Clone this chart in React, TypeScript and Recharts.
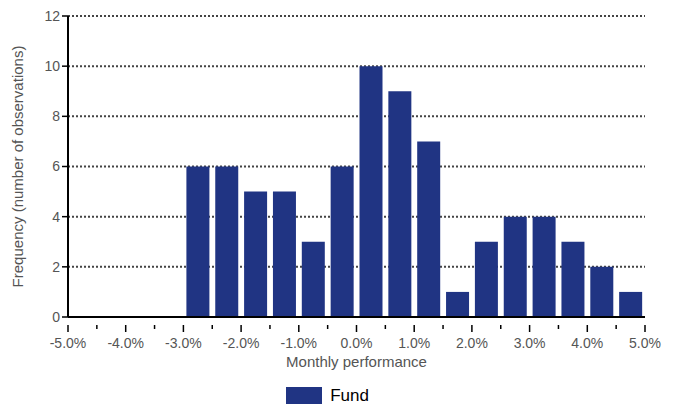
import React from 'react';
import { BarChart, Bar, XAxis, YAxis, CartesianGrid, Legend } from 'recharts';

// bin centres (monthly return, %), each bin 0.5% wide
const binCenters = [
  -4.75, -4.25, -3.75, -3.25, -2.75, -2.25, -1.75, -1.25, -0.75, -0.25,
  0.25, 0.75, 1.25, 1.75, 2.25, 2.75, 3.25, 3.75, 4.25, 4.75,
];
const fundCounts = [0, 0, 0, 0, 6, 6, 5, 5, 3, 6, 10, 9, 7, 1, 3, 4, 4, 3, 2, 1];
const xTicks = [-5, -4.5, -4, -3.5, -3, -2.5, -2, -1.5, -1, -0.5, 0, 0.5, 1, 1.5, 2, 2.5, 3, 3.5, 4, 4.5, 5];
const yTicks = [0, 2, 4, 6, 8, 10, 12];

const BAR_COLOR = '#203483';
const TEXT_GRAY = '#555';

const data = binCenters.map((x, i) => ({ x, fund: fundCounts[i] }));

const XTick = (props: any) => {
  const { x, y, payload } = props;
  const v = payload.value as number;
  const major = Number.isInteger(v);
  return (
    <g>
      <line x1={x} x2={x} y1={y} y2={y + (major ? 7 : 4)} stroke="#000" strokeWidth={1.5} />
      {major && (
        <text x={x} y={y + 19} textAnchor="middle" fontSize={14} fill={TEXT_GRAY} dominantBaseline="middle">
          {v.toFixed(1) + '%'}
        </text>
      )}
    </g>
  );
};

const LegendContent = () => (
  <div style={{ display: 'flex', justifyContent: 'center', alignItems: 'center', height: 41, paddingTop: 16, boxSizing: 'border-box' }}>
    <div style={{ width: 36, height: 17, background: BAR_COLOR, marginRight: 8 }} />
    <span style={{ fontSize: 17, color: '#000' }}>Fund</span>
  </div>
);

export default function App() {
  return (
    <div style={{ position: 'absolute', left: 0, top: 0, fontFamily: 'Arial, "Liberation Sans", sans-serif' }}>
      <BarChart width={676} height={408} data={data} margin={{ top: 16, right: 31, left: 10, bottom: 0 }}>
        <CartesianGrid vertical={false} stroke="#444" strokeWidth={2} strokeDasharray="2 2" />
        <XAxis
          dataKey="x"
          type="number"
          domain={[-5, 5]}
          ticks={xTicks}
          interval={0}
          tickLine={false}
          tick={<XTick />}
          axisLine={{ stroke: '#000', strokeWidth: 2 }}
          height={50}
          label={{ value: 'Monthly performance', position: 'insideBottom', offset: 0, fontSize: 15, fill: TEXT_GRAY }}
        />
        <YAxis
          domain={[0, 12]}
          ticks={yTicks}
          width={58}
          tick={{ fontSize: 14, fill: TEXT_GRAY }}
          tickLine={{ stroke: '#000', strokeWidth: 1.5 }}
          axisLine={{ stroke: '#000', strokeWidth: 2 }}
          label={{ value: 'Frequency (number of observations)', angle: -90, position: 'insideLeft', offset: 8, fontSize: 15, fill: TEXT_GRAY, style: { textAnchor: 'middle' } }}
        />
        <Legend verticalAlign="bottom" content={<LegendContent />} />
        <Bar dataKey="fund" name="Fund" fill={BAR_COLOR} barSize={23} isAnimationActive={false} />
      </BarChart>
    </div>
  );
}
